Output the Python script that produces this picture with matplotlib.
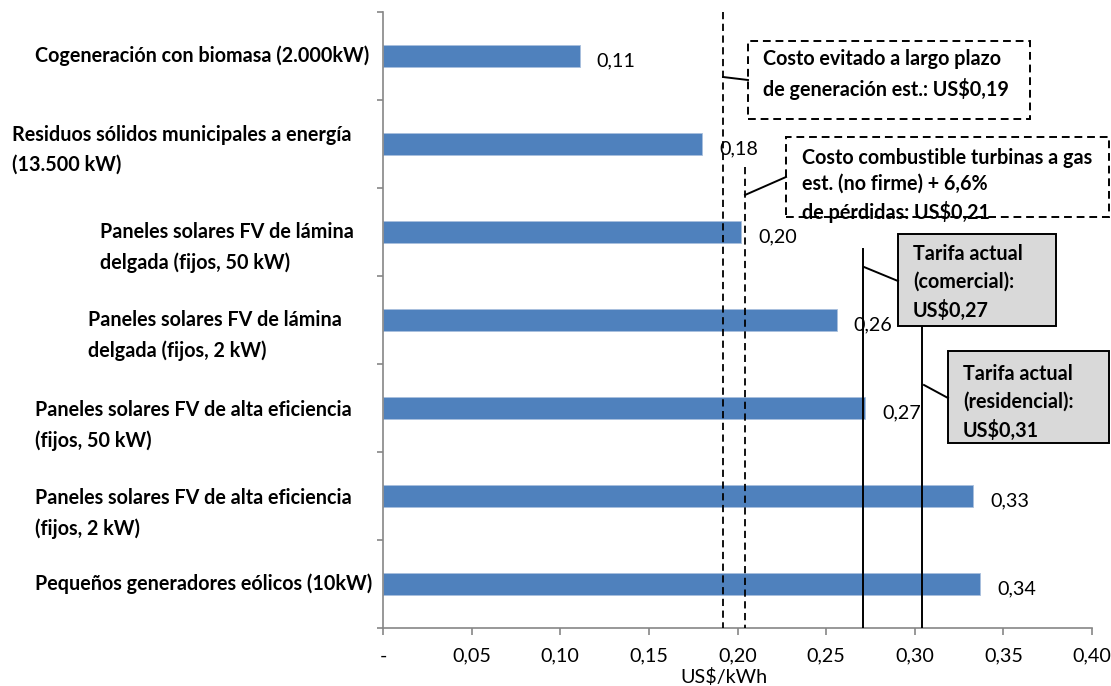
import matplotlib
matplotlib.use('Agg')
import matplotlib.pyplot as plt
from matplotlib.patches import Rectangle
from matplotlib.lines import Line2D
import matplotlib.transforms as mtransforms

#data
categories = ["Cogeneración con biomasa (2.000kW)",
              "Residuos sólidos municipales a energía\n(13.500 kW)",
              "Paneles solares FV de lámina\ndelgada (fijos, 50 kW)",
              "Paneles solares FV de lámina\ndelgada (fijos, 2 kW)",
              "Paneles solares FV de alta eficiencia\n(fijos, 50 kW)",
              "Paneles solares FV de alta eficiencia\n(fijos, 2 kW)",
              "Pequeños generadores eólicos (10kW)"]
values = [0.111, 0.180, 0.202, 0.256, 0.272, 0.333, 0.337]
xticks = [0, 0.05, 0.10, 0.15, 0.20, 0.25, 0.30, 0.35, 0.40]
xticklabels = ["-", "0,05", "0,10", "0,15", "0,20", "0,25", "0,30", "0,35", "0,40"]
ref_values = [0.192, 0.204, 0.271, 0.304]
ref_styles = ["dashed", "dashed", "solid", "solid"]
ref_texts = ["Costo evitado a largo plazo\nde generación est.: US$0,19",
             "Costo combustible turbinas a gas\nest. (no firme) + 6,6%\nde pérdidas: US$0,21",
             "Tarifa actual\n(comercial):\nUS$0,27",
             "Tarifa actual\n(residencial):\nUS$0,31"]

#layout (pixels)
W, H = 1111, 686
def fx(x): return x / W
def fy(y): return 1 - y / H

label_x = [35, 12, 100, 88, 35, 35, 35]
label_dy = [0.0, 0.07, 0.18, 0.18, 0.2, 0.2, 0.0]
ref_top = [12, 167, 249, 326]
boxes = [(748, 41, 1030, 119), (786, 137, 1109, 217), (898, 234, 1056, 326), (948, 351, 1109, 443)]
box_text_xy = [(763, 49), (802, 148), (913, 244), (963, 364)]
box_spacing = [1.48, 1.38, 1.48, 1.48]
leaders = [((723, 77), (748, 80)), ((745, 195), (786, 177)), ((864, 267), (898, 281)), ((924, 385), (948, 398))]

plt.rcParams['font.family'] = ['Lato', 'DejaVu Sans']
fs = 14.2

fig = plt.figure(figsize=(W / 100, H / 100), dpi=100)
ax = fig.add_axes([fx(383), fy(628), fx(1092) - fx(383), fy(12) - fy(628)])

n = len(categories)
pos = list(range(n))
ax.barh(pos, values, height=0.245, color='#4f81bd', edgecolor='#a9c0de', linewidth=0.6, zorder=2)
ax.set_xlim(0, 0.40)
ax.set_ylim(n - 0.5, -0.5)

for s in ['top', 'right']:
    ax.spines[s].set_visible(False)
for s in ['left', 'bottom']:
    ax.spines[s].set_color('#868686')
    ax.spines[s].set_linewidth(1.2)

ax.set_yticks([i - 0.5 for i in range(n + 1)])
ax.set_yticklabels([])
ax.tick_params(axis='y', direction='out', length=4, color='#868686', width=1.2)
ax.set_xticks(xticks)
ax.set_xticklabels(xticklabels, fontsize=fs)
ax.tick_params(axis='x', direction='out', length=5, color='#868686', width=1.2, pad=9)

#category labels
tr = mtransforms.blended_transform_factory(fig.transFigure, ax.transData)
for i, c in enumerate(categories):
    ax.text(fx(label_x[i]), i + label_dy[i], c, transform=tr, ha='left', va='center',
            fontsize=fs, fontweight='bold', linespacing=1.62)

#value labels
for i, v in enumerate(values):
    ax.annotate(f"{v:.2f}".replace('.', ','), (v, i), xytext=(17, -5), textcoords='offset pixels',
                ha='left', va='center', fontsize=fs, zorder=1)

#reference lines
for i, rv in enumerate(ref_values):
    ytop = (ref_top[i] - 12) / 616 * n - 0.5
    if ref_styles[i] == 'dashed':
        ax.plot([rv, rv], [ytop, n - 0.5], color='black', lw=1.3, linestyle=(0, (4, 2.5)), zorder=3)
    else:
        ax.plot([rv, rv], [ytop, n - 0.5], color='black', lw=1.4, zorder=3)

#annotation boxes
for i, (x0, y0, x1, y1) in enumerate(boxes):
    if ref_styles[i] == 'dashed':
        r = Rectangle((fx(x0), fy(y1)), fx(x1) - fx(x0), fy(y0) - fy(y1), transform=fig.transFigure,
                      facecolor='white', edgecolor='black', lw=1.4, linestyle=(0, (4, 2.5)))
    else:
        r = Rectangle((fx(x0), fy(y1)), fx(x1) - fx(x0), fy(y0) - fy(y1), transform=fig.transFigure,
                      facecolor='#d9d9d9', edgecolor='black', lw=1.4)
    fig.add_artist(r)
    tx, ty = box_text_xy[i]
    fig.text(fx(tx), fy(ty), ref_texts[i], ha='left', va='top', fontsize=fs, fontweight='bold',
             linespacing=box_spacing[i])
    (a, b), (c, d) = leaders[i]
    fig.add_artist(Line2D([fx(a), fx(c)], [fy(b), fy(d)], color='black', lw=1.4))

fig.text(fx(724), fy(677), "US$/kWh", ha='center', va='center', fontsize=fs)

fig.savefig('out.png', dpi=100)
